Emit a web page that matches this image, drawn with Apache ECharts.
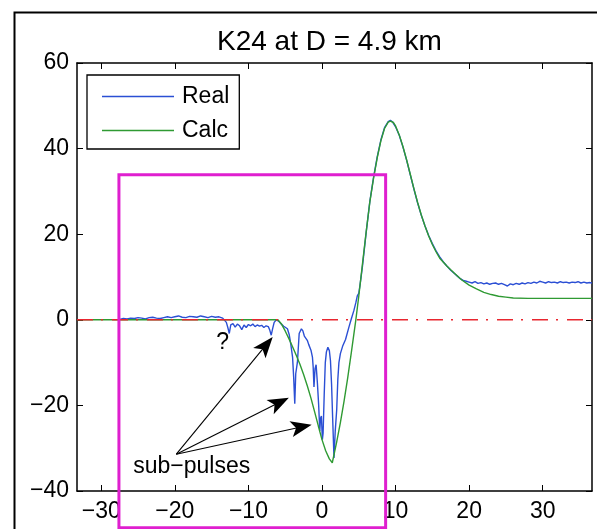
<!DOCTYPE html>
<html><head><meta charset="utf-8">
<script src="https://cdn.jsdelivr.net/npm/echarts@6/dist/echarts.min.js"></script>
<style>html,body{margin:0;padding:0;background:#fff}#c{width:597px;height:529px}</style>
</head><body><div id="c"></div>
<script>
const titleText = 'K24 at D = 4.9 km';
const seriesNames = ['Real', 'Calc'];
const xTicks = [-30, -20, -10, 0, 10, 20, 30];
const yTicks = [-40, -20, 0, 20, 40, 60];
const xRange = [-33.3, 36.7];
const yRange = [-40, 60];

const realX = [-27.5,-27.0,-26.5,-26.0,-25.5,-25.0,-24.5,-24.0,-23.5,-23.0,-22.5,-22.0,-21.5,-21.0,-20.5,-20.0,-19.5,-19.0,-18.5,-18.0,-17.5,-17.0,-16.5,-16.0,-15.5,-15.0,-14.5,-14.0,-13.5,
 -13.3,-13.0,-12.8,-12.6,-12.4,-12.1,-11.8,-11.5,-11.2,-10.9,-10.6,-10.3,-10.0,-9.7,-9.4,-9.1,-8.8,-8.5,-8.2,-7.9,-7.6,-7.3,-7.1,-6.9,-6.7,-6.5,-6.2,-5.9,
 -5.6,-5.2,-4.7,-4.45,-4.25,-4.0,-3.85,-3.7,-3.57,-3.34,-3.1,-2.8,-2.6,-2.4,-2.2,-2.0,-1.8,-1.5,-1.3,-1.2,-1.09,-0.95,-0.8,-0.62,-0.45,-0.3,-0.2,-0.08,0.05,0.15,0.3,0.45,0.6,0.8,1.0,1.15,1.3,1.45,1.63,1.8,2.0,2.15,2.3,2.5,2.8,3.2,3.66,4.0,4.34,4.6,4.8,5.0,5.2,5.5,6.0,6.5,7.0,7.5,8.0,8.5,9.0,9.3,9.6,10.0,10.5,11.0,11.5,12.0,12.5,13.0,13.5,14.0,14.5,15.0,15.5,16.0,16.5,17.0,17.5,18.0,18.4,18.8,19.2,19.6,
 20.0,20.4,20.8,21.2,21.6,22.0,22.4,22.8,23.2,23.6,24.0,24.4,24.8,25.2,25.6,26.0,26.4,26.8,27.2,27.6,28.0,28.4,28.8,29.2,29.6,30.0,30.4,30.8,31.2,31.6,32.0,32.4,32.8,33.2,33.6,34.0,34.4,34.8,35.2,35.6,36.0,36.4,36.7];
const realY = [0.1,0.3,0.2,0.4,0.3,0.5,0.4,0.2,0.5,0.6,0.4,0.3,0.5,0.7,0.5,0.7,0.9,0.6,0.5,0.8,0.7,0.6,0.9,0.7,0.5,0.8,0.6,0.7,0.4,
 0.2,-0.6,-1.8,-3.2,-1.2,-0.9,-1.7,-1.0,-1.4,-2.3,-1.2,-1.8,-1.1,-1.4,-1.0,-1.6,-1.2,-1.5,-1.3,-1.8,-1.4,-1.6,-2.4,-3.6,-2.0,-0.6,0.0,-0.3,
 -0.9,-1.5,-2.1,-3.5,-5.6,-8.7,-13.4,-19.6,-12.6,-9.9,-3.2,-2.1,-2.6,-3.8,-4.2,-4.8,-5.8,-7.1,-8.7,-11.0,-15.7,-11.5,-10.5,-14.9,-20.0,-26.0,-23.0,-22.5,-28.0,-26.5,-17.5,-10.0,-7.5,-6.4,-7.2,-9.5,-15.0,-23.0,-32.3,-26.0,-21.0,-14.0,-10.0,-7.9,-6.2,-4.6,-1.7,0.3,2.2,4.0,5.6,6.2,8.5,12.5,20.3,27.6,33.2,38.0,42.0,44.9,46.3,46.6,46.2,45.1,43.1,40.4,37.3,33.9,30.5,27.3,24.4,21.9,19.7,17.8,16.1,14.7,13.5,12.5,11.6,10.8,10.2,9.6,9.2,9.0,
 8.8,8.6,8.9,8.5,8.7,8.4,8.6,8.3,8.5,8.6,8.3,8.5,8.2,7.9,8.4,8.2,8.5,8.3,8.6,8.4,8.7,8.5,8.8,8.6,9.0,8.8,8.6,8.9,8.7,8.8,8.6,8.9,8.7,8.8,8.6,8.8,8.7,8.9,8.6,8.8,8.6,8.7,8.6];

const calcX = [-33.3,-6.0,-5.5,-5.0,-4.5,-4.0,-3.5,-3.0,-2.5,-2.0,-1.5,-1.0,-0.5,0.0,0.5,1.0,1.4,2.0,2.5,3.0,3.5,4.0,4.6,5.0,5.5,6.0,6.5,7.0,7.5,8.0,8.5,9.0,9.3,9.7,10.0,10.5,11.0,11.5,12.0,12.5,13.0,13.5,14.0,14.5,15.0,15.5,16.0,17.0,18.0,19.0,20.0,21.0,22.0,23.0,24.0,25.0,26.0,28.0,36.7];
const calcY = [0,0,-1.0,-2.6,-4.4,-6.3,-8.3,-10.4,-12.8,-15.4,-18.3,-21.5,-24.8,-28.0,-30.6,-32.5,-33.4,-28.5,-24.0,-19.0,-13.5,-7.5,0,5.5,13.0,20.5,27.5,33.0,37.8,41.8,44.7,46.2,46.4,46.1,45.3,43.2,40.5,37.4,34.0,30.6,27.4,24.5,21.9,19.6,17.6,15.9,14.4,12.5,10.9,9.3,8.1,7.2,6.4,5.9,5.5,5.3,5.1,5.0,5.0];

const zeroX = [-33.3, 36.7];
const zeroY = [0, 0];
const boxX = [-27.6, 8.65];
const boxY = [33.9, -48.6];
const arrowFrom = [-19.8, -31.4];
const arrowToX = [-6.7, -4.5, -1.4];
const arrowToY = [-4.0, -18.2, -24.5];
const noteText = ['?', 'sub\u2212pulses'];
const noteX = [-13.5, -17.7];
const noteY = [-5.4, -34.3];

const FONT = 'Liberation Sans, Arial, Helvetica, sans-serif';
const BLUE = '#2b4fd4', GREEN = '#2f9a33', RED = '#e8262f', MAG = '#df1fcf';
const fmt = v => String(v).replace('-', '\u2212');
const zip = (a, b) => a.map((x, i) => [x, b[i]]);
const LEG_ICON = 'path://M0,0H72V1.3H0Z';

const chart = echarts.init(document.getElementById('c'), null, {renderer: 'canvas'});
const axisCommon = {
  axisLine: {show: true, onZero: false, lineStyle: {color: '#000', width: 1.5}},
  splitLine: {show: false}
};
chart.setOption({
  animation: false,
  backgroundColor: '#fff',
  title: {text: titleText, left: 212, top: 23,
    textStyle: {fontSize: 28, fontWeight: 'normal', color: '#000', fontFamily: FONT}},
  grid: {left: 77, right: 5, top: 63, bottom: 38, containLabel: false},
  legend: {data: seriesNames.map(n => ({name: n, icon: LEG_ICON})), orient: 'vertical', left: 87, top: 75,
    padding: [10, 10, 7, 15], itemWidth: 72, itemHeight: 20, itemGap: 11,
    borderColor: '#000', borderWidth: 1.3, backgroundColor: '#fff',
    textStyle: {fontSize: 23, color: '#000', fontFamily: FONT, padding: [0, 0, 0, 3]}},
  graphic: [{type: 'rect', left: 12, top: 10, shape: {width: 620, height: 560},
    style: {fill: 'none', stroke: '#000', lineWidth: 2}, silent: true, z: 100}],
  xAxis: [
    Object.assign({type: 'value', min: xRange[0], max: xRange[1], position: 'bottom',
      axisTick: {show: true, inside: true, length: 6, lineStyle: {color: '#000'}, customValues: xTicks},
      axisLabel: {show: true, customValues: xTicks, formatter: fmt, fontSize: 23, color: '#000', fontFamily: FONT, margin: 9}}, axisCommon),
    Object.assign({type: 'value', min: xRange[0], max: xRange[1], position: 'top',
      axisTick: {show: true, inside: true, length: 6, lineStyle: {color: '#000'}, customValues: xTicks},
      axisLabel: {show: false}}, axisCommon)
  ],
  yAxis: [
    Object.assign({type: 'value', min: yRange[0], max: yRange[1], interval: 20, position: 'left',
      axisTick: {show: true, inside: true, length: 6, lineStyle: {color: '#000'}},
      axisLabel: {show: true, formatter: fmt, fontSize: 23, color: '#000', fontFamily: FONT, margin: 8}}, axisCommon),
    Object.assign({type: 'value', min: yRange[0], max: yRange[1], interval: 20, position: 'right',
      axisTick: {show: true, inside: true, length: 6, lineStyle: {color: '#000'}},
      axisLabel: {show: false}}, axisCommon)
  ],
  series: [
    {name: 'Real', type: 'line', data: zip(realX, realY), symbol: 'none', z: 3,
      lineStyle: {color: BLUE, width: 1.4}, itemStyle: {color: BLUE}},
    {name: 'Calc', type: 'line', data: zip(calcX, calcY), symbol: 'none', z: 4,
      lineStyle: {color: GREEN, width: 1.4}, itemStyle: {color: GREEN}},
    {name: 'zero', type: 'line', data: zip(zeroX, zeroY), symbol: 'none', z: 5,
      lineStyle: {color: RED, width: 1.5, type: [16, 8, 2, 9]}},
    {name: 'box', type: 'custom', clip: false, z: 6,
      data: [[boxX[0], boxY[0], boxX[1], boxY[1]]],
      renderItem: (params, api) => {
        const p0 = api.coord([api.value(0), api.value(1)]);
        const p1 = api.coord([api.value(2), api.value(3)]);
        return {type: 'rect', shape: {x: p0[0], y: p0[1], width: p1[0] - p0[0], height: p1[1] - p0[1]},
          style: {fill: 'none', stroke: MAG, lineWidth: 3}};
      }},
    {name: 'arrows', type: 'custom', clip: false, z: 7,
      data: arrowToX.map((x, i) => [arrowFrom[0], arrowFrom[1], x, arrowToY[i]]),
      renderItem: (params, api) => {
        const p0 = api.coord([api.value(0), api.value(1)]);
        const p1 = api.coord([api.value(2), api.value(3)]);
        const dx = p1[0] - p0[0], dy = p1[1] - p0[1];
        const L = Math.hypot(dx, dy), ux = dx / L, uy = dy / L, nx = -uy, ny = ux;
        const hl = 21, hw = 8, notch = 5;
        const bx = p1[0] - ux * hl, by = p1[1] - uy * hl;
        const pts = [[p1[0], p1[1]], [bx + nx * hw, by + ny * hw],
          [p1[0] - ux * (hl - notch), p1[1] - uy * (hl - notch)], [bx - nx * hw, by - ny * hw]];
        return {type: 'group', children: [
          {type: 'line', shape: {x1: p0[0], y1: p0[1], x2: p1[0] - ux * 12, y2: p1[1] - uy * 12},
            style: {stroke: '#000', lineWidth: 1.1}},
          {type: 'polygon', shape: {points: pts}, style: {fill: '#000'}}
        ]};
      }},
    {name: 'notes', type: 'custom', clip: false, z: 8,
      data: noteX.map((x, i) => [x, noteY[i], i]),
      renderItem: (params, api) => {
        const p = api.coord([api.value(0), api.value(1)]);
        return {type: 'text', x: p[0], y: p[1],
          style: {text: noteText[api.value(2)], fill: '#000', fontSize: 23, fontFamily: FONT,
            align: 'center', verticalAlign: 'middle'}};
      }}
  ]
});
</script></body></html>
